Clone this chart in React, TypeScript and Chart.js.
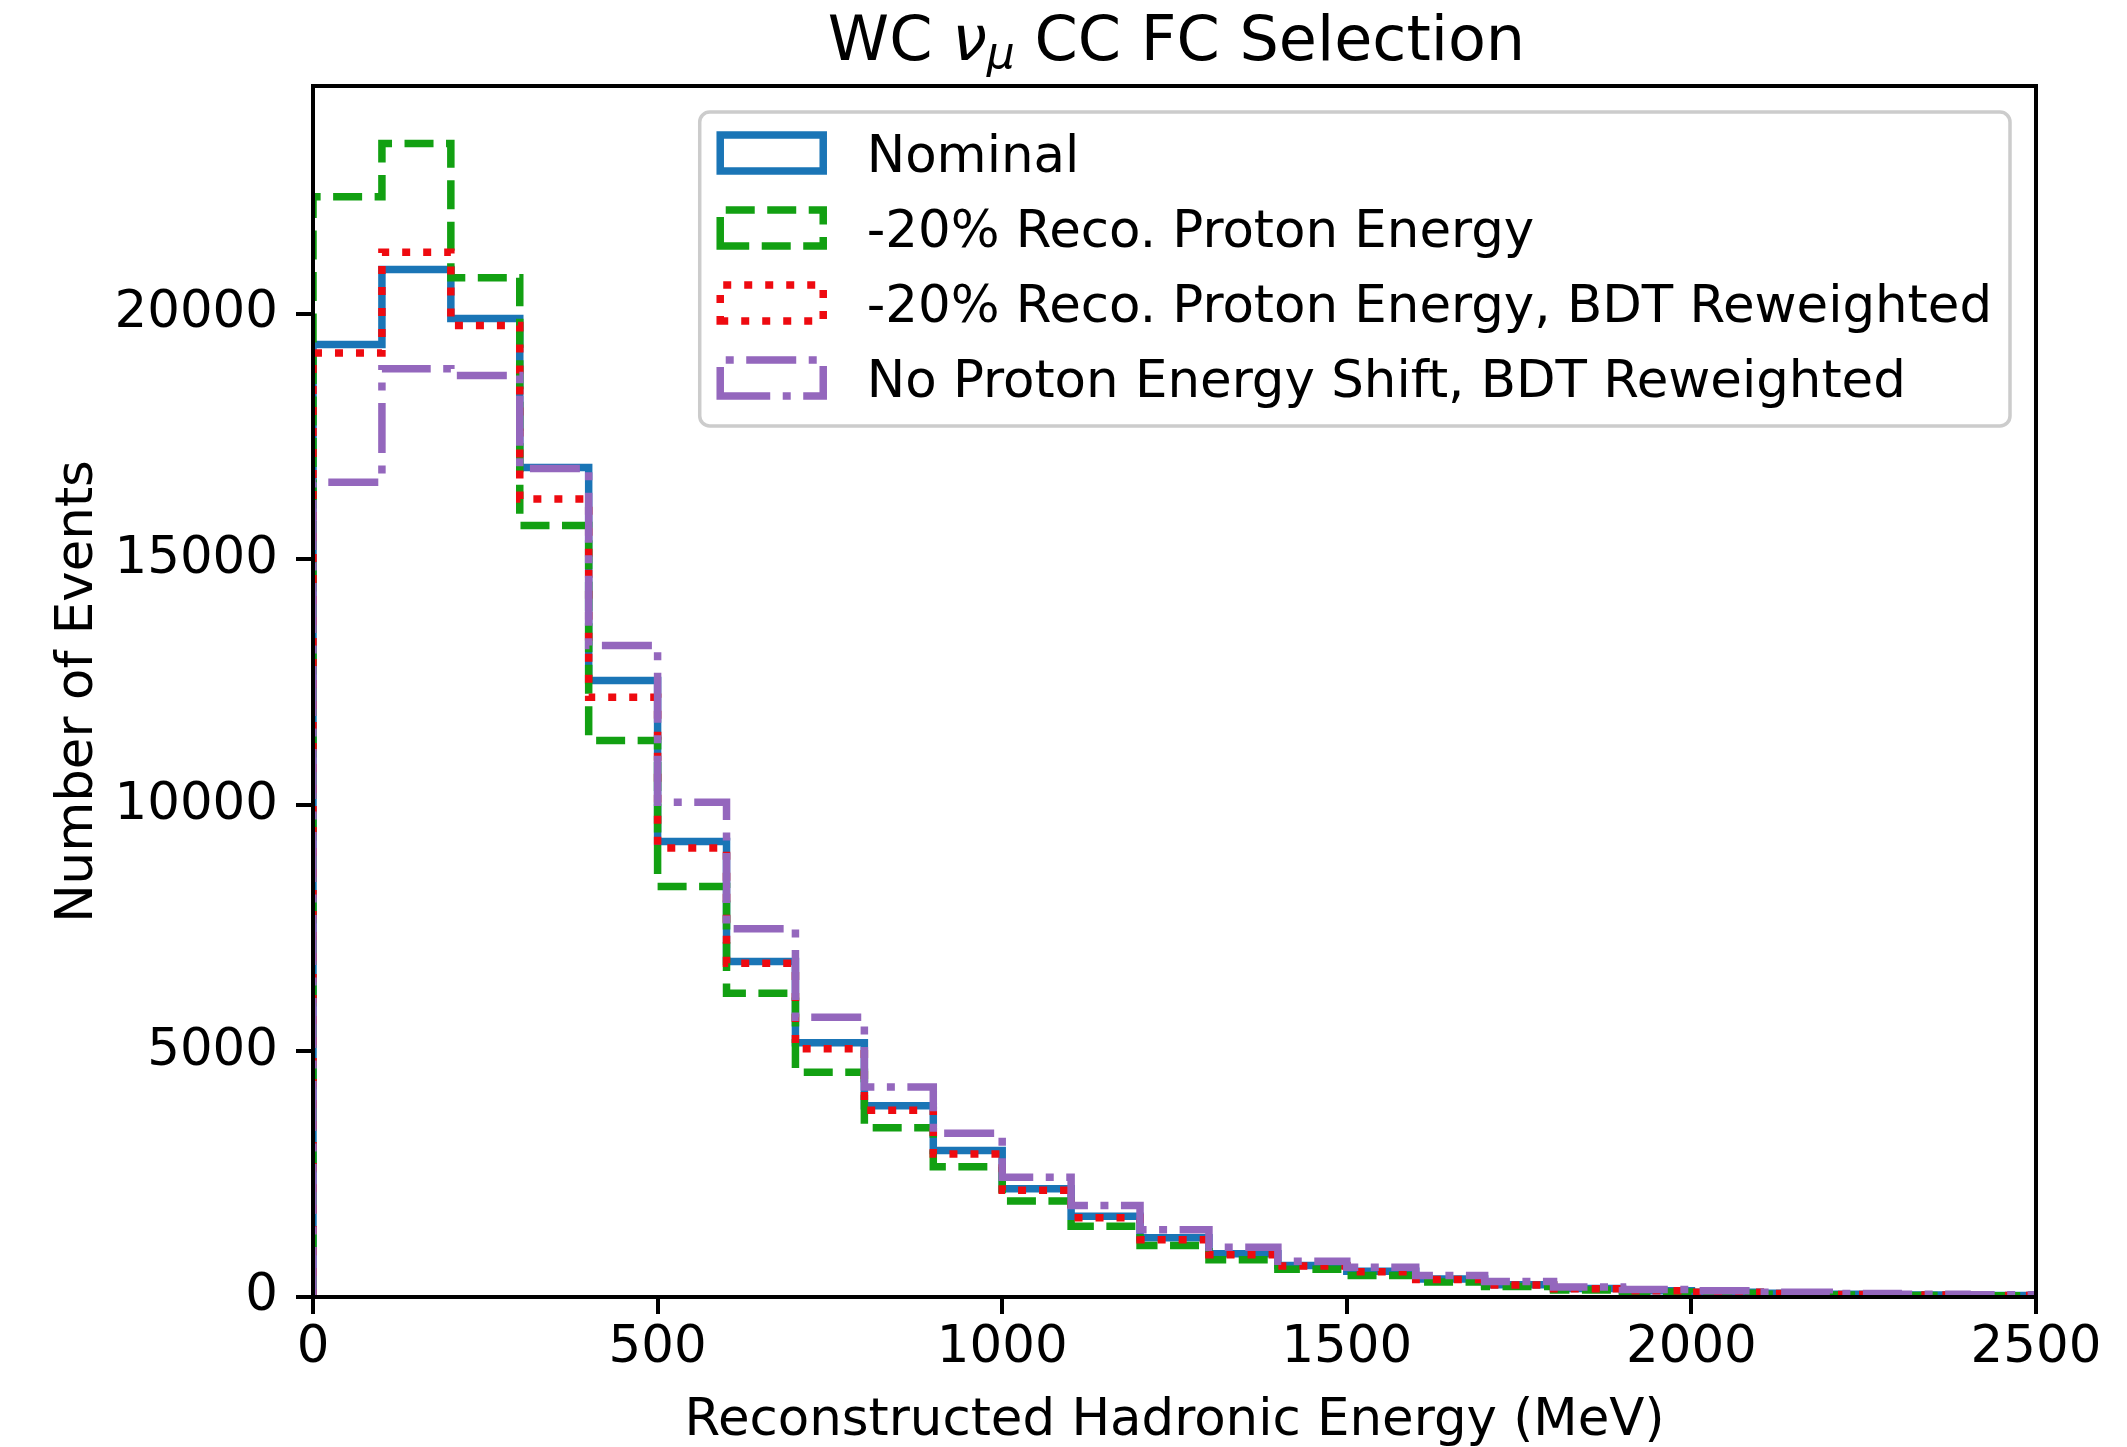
import React, { useEffect, useRef } from "react";
import { Chart, registerables } from "chart.js";

Chart.register(...registerables);

// ---- data ----
const binEdges = [
  0, 100, 200, 300, 400, 500, 600, 700, 800, 900, 1000, 1100, 1200, 1300, 1400,
  1500, 1600, 1700, 1800, 1900, 2000, 2100, 2200, 2300, 2400, 2500,
];

const nominal = [
  19370, 20900, 19900, 16870, 12540, 9265, 6824, 5170, 3890, 2980, 2200, 1644,
  1204, 878, 641, 526, 365, 250, 175, 128, 98, 74, 55, 42, 32,
];
const protonMinus20 = [
  22380, 23460, 20730, 15690, 11320, 8350, 6180, 4570, 3440, 2650, 1950, 1440,
  1047, 756, 566, 437, 305, 213, 140, 100, 76, 56, 42, 32, 24,
];
const protonMinus20Bdt = [
  19200, 21250, 19760, 16230, 12200, 9130, 6790, 5050, 3800, 2910, 2170, 1610,
  1165, 858, 630, 515, 355, 245, 170, 125, 95, 72, 53, 40, 31,
];
const noShiftBdt = [
  16570, 18880, 18740, 16850, 13250, 10064, 7489, 5691, 4270, 3330, 2437, 1861,
  1366, 1013, 729, 607, 437, 315, 205, 150, 125, 95, 70, 55, 45,
];

const seriesLabels = [
  "Nominal",
  "-20% Reco. Proton Energy",
  "-20% Reco. Proton Energy, BDT Reweighted",
  "No Proton Energy Shift, BDT Reweighted",
];

const xTicks = [0, 500, 1000, 1500, 2000, 2500];
const yTicks = [0, 5000, 10000, 15000, 20000];

const FONT = "'DejaVu Sans', sans-serif";
const FS = 51.4;
const colors = ["#1a75b6", "#12a012", "#ee0a10", "#9467bd"];
const dashes = [[], [29, 12.5], [8, 13], [50, 12.5, 8, 12.5]];
const LW = 7.5;

function stepPoints(values: number[]) {
  const pts: { x: number; y: number }[] = [{ x: binEdges[0], y: 0 }];
  values.forEach((v, i) => pts.push({ x: binEdges[i], y: v }));
  pts.push({ x: binEdges[binEdges.length - 1], y: 0 });
  return pts;
}

const framePlugin = {
  id: "mplFrame",
  afterDatasetsDraw(chart: any) {
    const { ctx, chartArea } = chart;
    ctx.save();
    ctx.setLineDash([]);
    ctx.strokeStyle = "#000";
    ctx.lineWidth = 4;
    ctx.strokeRect(
      chartArea.left,
      chartArea.top,
      chartArea.right - chartArea.left,
      chartArea.bottom - chartArea.top
    );
    ctx.restore();
  },
};

const overlayPlugin = {
  id: "mplOverlay",
  afterDraw(chart: any) {
    const { ctx, chartArea } = chart;
    ctx.save();

    // ---- legend ----
    ctx.font = `${FS}px ${FONT}`;
    const textW = Math.max(...seriesLabels.map((l) => ctx.measureText(l).width));
    const right = chartArea.right - 26;
    const top = chartArea.top + 26;
    const width = 20 + 103 + 44 + textW + 18;
    const left = right - width;
    const height = 314;
    ctx.beginPath();
    ctx.roundRect(left, top, width, height, 10);
    ctx.fillStyle = "rgba(255,255,255,0.8)";
    ctx.fill();
    ctx.setLineDash([]);
    ctx.lineWidth = 3.5;
    ctx.strokeStyle = "#cccccc";
    ctx.stroke();

    chart.data.datasets.forEach((ds: any, i: number) => {
      const cy = top + 41 + i * 75;
      const hl = left + 20.5;
      const hr = hl + 103;
      const ht = cy - 18;
      const hb = cy + 18;
      ctx.setLineDash(ds.borderDash || []);
      ctx.lineDashOffset = 0;
      ctx.lineWidth = LW;
      ctx.lineCap = "butt";
      ctx.lineJoin = "miter";
      ctx.strokeStyle = ds.borderColor;
      ctx.beginPath();
      ctx.moveTo(hl, hb);
      ctx.lineTo(hr, hb);
      ctx.lineTo(hr, ht);
      ctx.lineTo(hl, ht);
      ctx.closePath();
      ctx.stroke();
      ctx.setLineDash([]);
      ctx.fillStyle = "#000";
      ctx.textBaseline = "alphabetic";
      ctx.textAlign = "left";
      ctx.font = `${FS}px ${FONT}`;
      ctx.fillText(ds.label, hr + 43.5, cy + 18.5);
    });

    // ---- title ----
    const center = (chartArea.left + chartArea.right) / 2 + 2;
    const baseline = 60;
    const p1 = "WC ";
    const nu = "\u03BD";
    const mu = "\u03BC";
    const p2 = " CC FC Selection";
    ctx.font = `62px ${FONT}`;
    const w1 = ctx.measureText(p1).width;
    const w2 = ctx.measureText(p2).width;
    ctx.font = `italic 62px ${FONT}`;
    const wNu = ctx.measureText(nu).width;
    ctx.font = `italic 44px ${FONT}`;
    const wMu = ctx.measureText(mu).width;
    const total = w1 + wNu + wMu + w2;
    let x = center - total / 2;
    ctx.fillStyle = "#000";
    ctx.textAlign = "left";
    ctx.textBaseline = "alphabetic";
    ctx.font = `62px ${FONT}`;
    ctx.fillText(p1, x, baseline);
    x += w1;
    ctx.font = `italic 62px ${FONT}`;
    ctx.fillText(nu, x, baseline);
    x += wNu;
    ctx.font = `italic 44px ${FONT}`;
    ctx.fillText(mu, x, baseline + 8);
    x += wMu;
    ctx.font = `62px ${FONT}`;
    ctx.fillText(p2, x, baseline);

    ctx.restore();
  },
};

export default function App() {
  const canvasRef = useRef<HTMLCanvasElement | null>(null);

  useEffect(() => {
    document.body.style.margin = "0";
    const canvas = canvasRef.current;
    if (!canvas) return;
    const seriesValues = [nominal, protonMinus20, protonMinus20Bdt, noShiftBdt];
    const drawOrder = [4, 3, 2, 1];
    const chart = new Chart(canvas, {
      type: "line",
      data: {
        datasets: seriesValues.map((vals, i) => ({
          label: seriesLabels[i],
          data: stepPoints(vals),
          borderColor: colors[i],
          backgroundColor: "transparent",
          borderWidth: LW,
          borderDash: dashes[i],
          borderCapStyle: "butt",
          borderJoinStyle: "miter",
          stepped: "before",
          fill: false,
          pointRadius: 0,
          pointHoverRadius: 0,
          tension: 0,
          order: drawOrder[i],
        })),
      },
      options: {
        animation: false,
        responsive: false,
        devicePixelRatio: 1,
        events: [],
        layout: { padding: { top: 86, right: 91, left: 0, bottom: 0 } },
        plugins: {
          legend: { display: false },
          tooltip: { enabled: false },
          title: { display: false },
        },
        scales: {
          x: {
            type: "linear",
            min: 0,
            max: 2500,
            afterBuildTicks: (s: any) => {
              s.ticks = xTicks.map((v) => ({ value: v }));
            },
            afterFit: (s: any) => {
              s.height = 150;
            },
            grid: {
              drawOnChartArea: false,
              drawTicks: true,
              tickLength: 17,
              tickWidth: 4,
              tickColor: "#000",
              color: "#000",
              lineWidth: 4,
            },
            border: { display: false },
            ticks: {
              font: { family: FONT, size: FS },
              color: "#000",
              padding: 4,
              maxRotation: 0,
              autoSkip: false,
              callback: (v: any) => String(v),
            },
            title: {
              display: true,
              text: "Reconstructed Hadronic Energy (MeV)",
              font: { family: FONT, size: FS, lineHeight: 1.0 },
              color: "#000",
              padding: { top: 0, bottom: 0 },
            },
          },
          y: {
            type: "linear",
            min: 0,
            max: 24630,
            afterBuildTicks: (s: any) => {
              s.ticks = yTicks.map((v) => ({ value: v }));
            },
            afterFit: (s: any) => {
              s.width = 313;
            },
            grid: {
              drawOnChartArea: false,
              drawTicks: true,
              tickLength: 17,
              tickWidth: 4,
              tickColor: "#000",
              color: "#000",
              lineWidth: 4,
            },
            border: { display: false },
            ticks: {
              font: { family: FONT, size: FS },
              color: "#000",
              padding: 18,
              autoSkip: false,
              callback: (v: any) => String(v),
            },
            title: {
              display: true,
              text: "Number of Events",
              font: { family: FONT, size: FS },
              color: "#000",
              padding: { top: 48, bottom: 0 },
            },
          },
        },
      },
      plugins: [framePlugin, overlayPlugin],
    } as any);
    return () => chart.destroy();
  }, []);

  return (
    <div
      style={{
        position: "fixed",
        left: 0,
        top: 0,
        width: 2127,
        height: 1447,
        background: "#fff",
      }}
    >
      <canvas
        ref={canvasRef}
        width={2127}
        height={1447}
        style={{ display: "block", width: 2127, height: 1447 }}
      />
    </div>
  );
}
